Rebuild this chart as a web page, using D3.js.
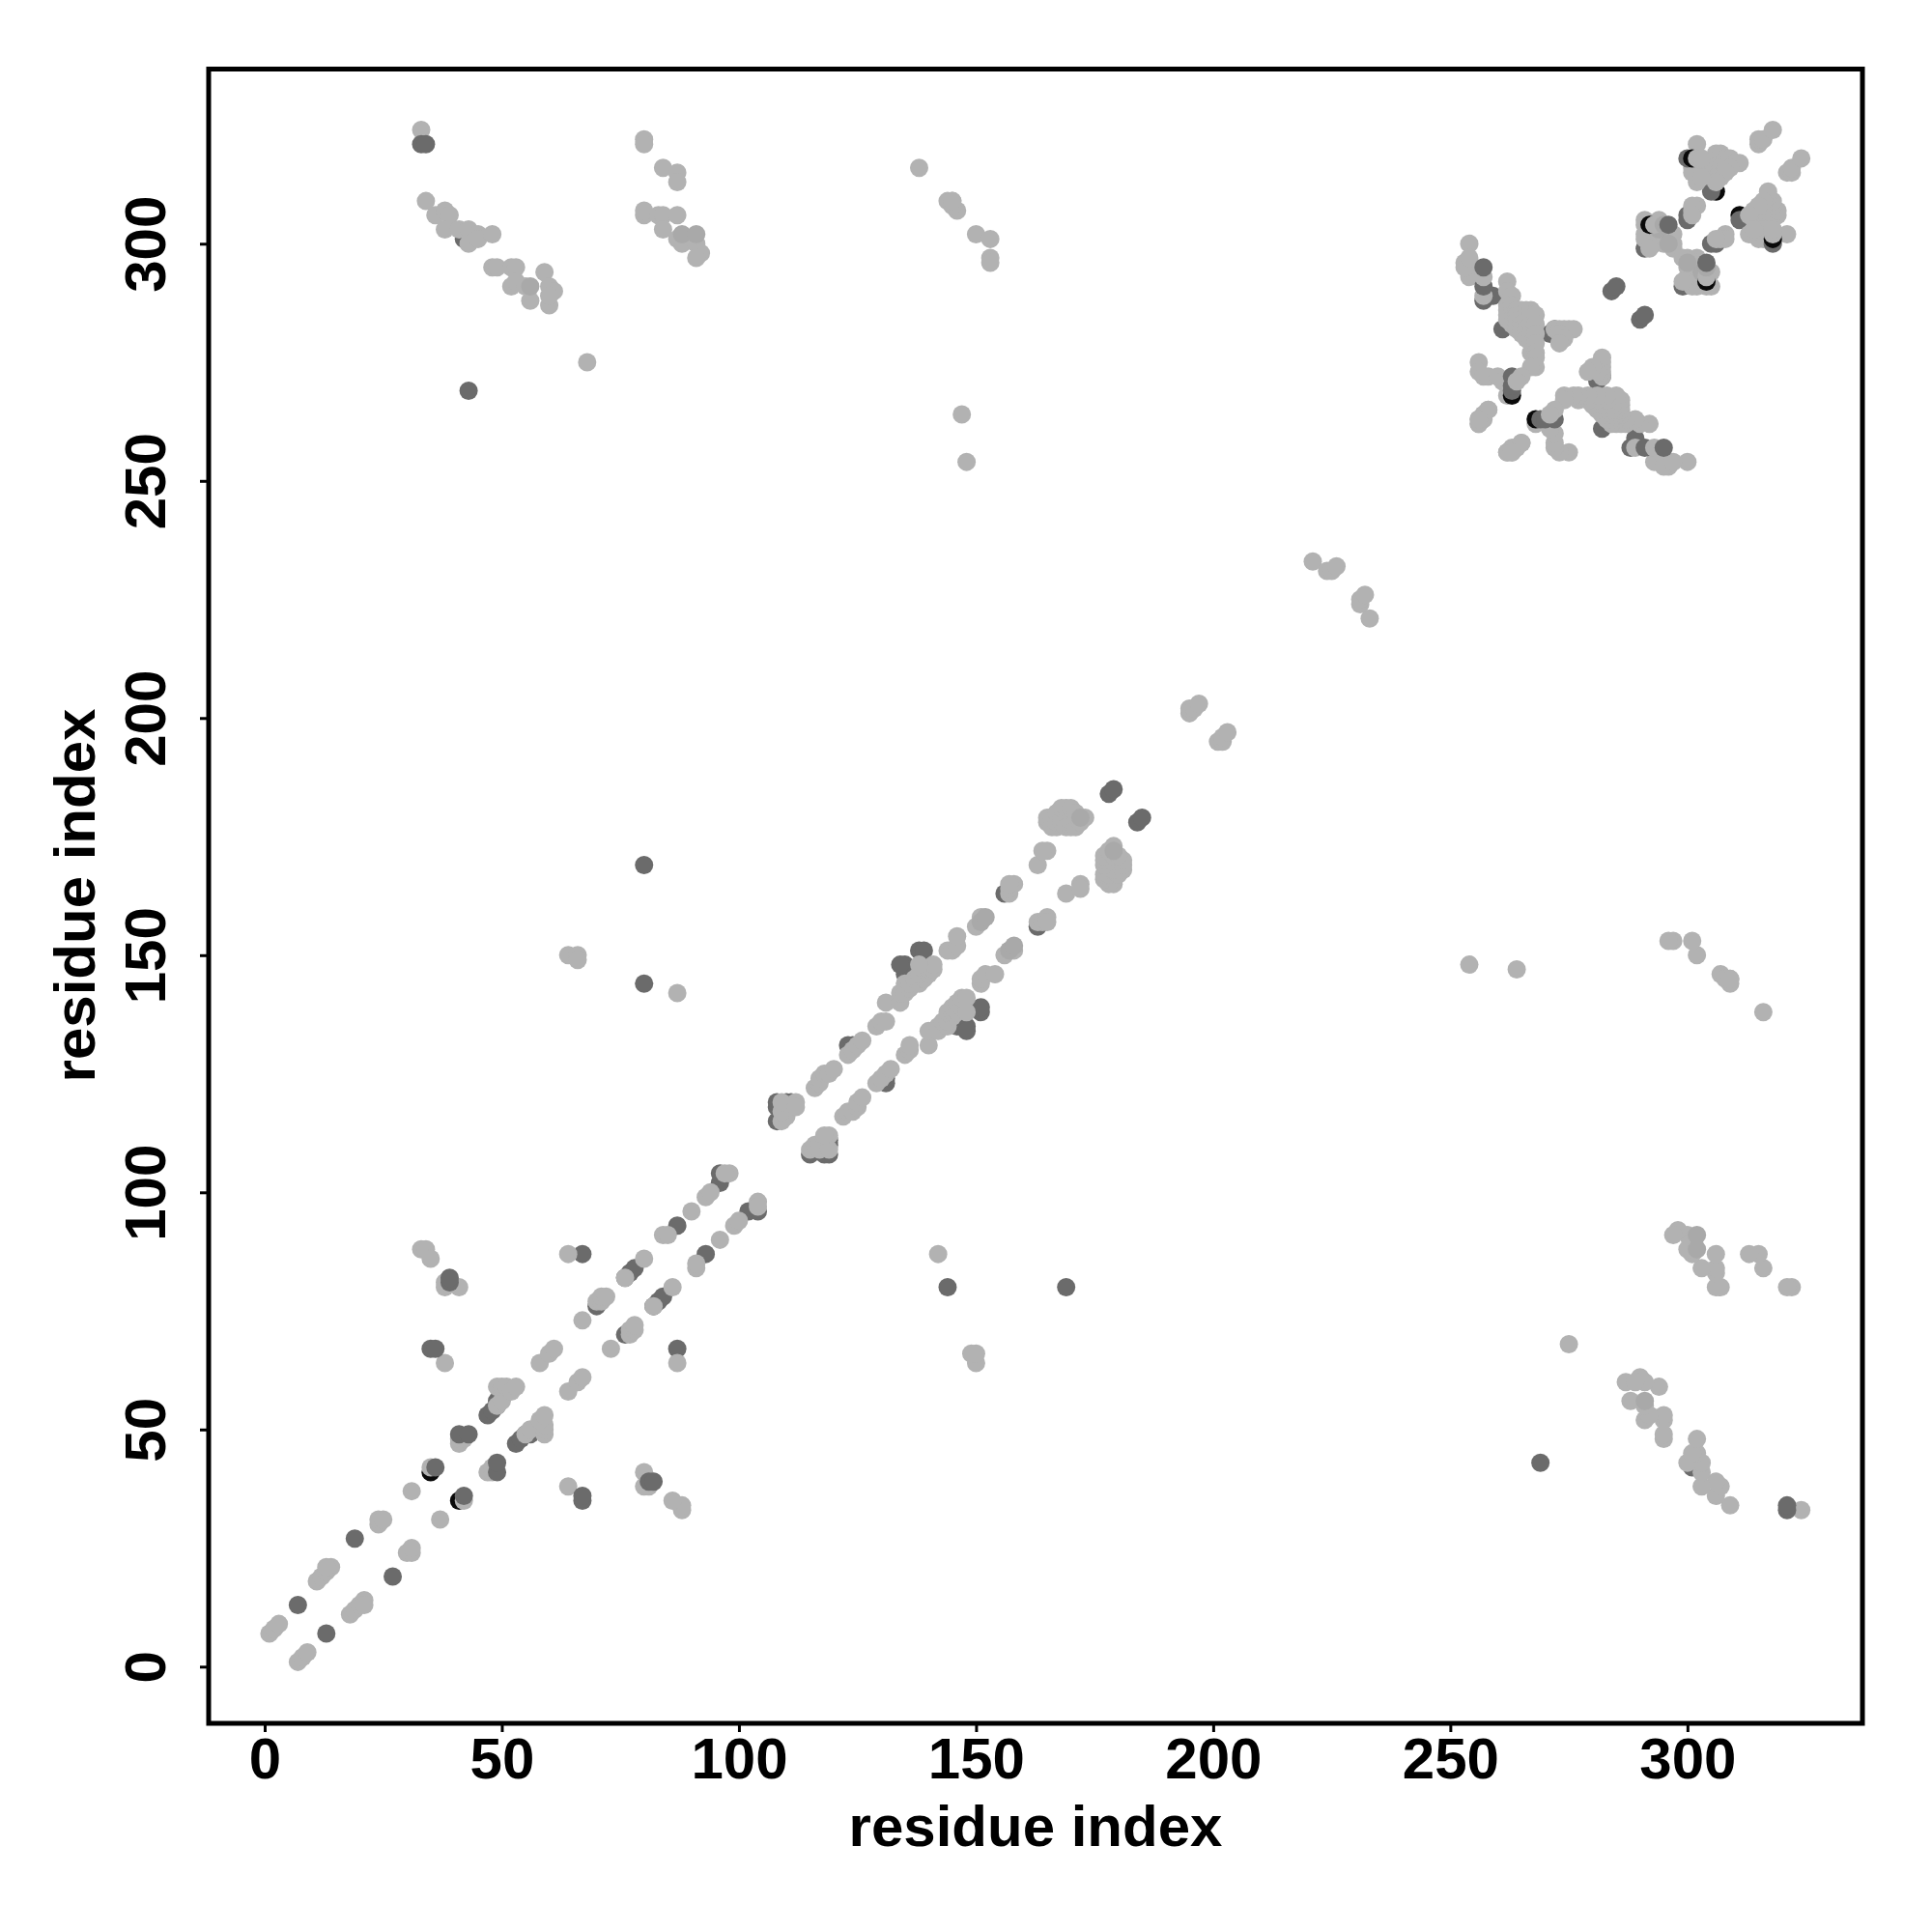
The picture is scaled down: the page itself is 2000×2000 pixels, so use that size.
<!DOCTYPE html>
<html><head><meta charset="utf-8">
<script src="https://cdn.jsdelivr.net/npm/d3@7"></script>
<style>html,body{margin:0;padding:0;background:#fff}svg{display:block}text{font-family:"Liberation Sans",Arial,sans-serif;font-weight:bold;fill:#000}</style>
</head><body><script>
const xTickValues=[0,50,100,150,200,250,300], yTickValues=[0,50,100,150,200,250,300];
const xTitle="residue index", yTitle="residue index";
// contact pairs [i,j], i<j; the map is symmetric. Listed in drawing order per shade.
const blackContacts=[[35,41],[306,311]];
const darkContacts=[[7,13],[19,27],[43,269],[43,301],[42,301],[70,76],[76,82],[77,83],[78,84],[47,53],[48,54],[49,55],[49,56],
[108,118],[108,119],[108,115],[110,119],[111,119],[109,118],[123,131],[124,131],[135,146],[135,147],[135,148],[134,148],[138,151],[139,151],[137,144],[139,146],[156,163],
[96,102],[96,104],[87,93],[80,169],[80,144],[67,87],[178,184],[179,185],
[259,289],[261,282],[281,272],[282,272],[271,281],[272,281],[300,306],[300,305],[284,290],[285,291],
[291,299],[302,315],[305,311]];
const lightContacts=[[1,7],[2,8],[3,9],[11,18],[12,19],[13,20],[14,21],[13,21],[24,30],[24,31],[25,31],[31,37],[35,42],[41,47],[41,48],[42,48],
[49,55],[50,56],[49,59],[50,59],[51,59],[52,58],[53,59],[58,64],[60,66],[61,67],[67,73],[70,77],[71,77],[71,78],[72,78],[76,82],[80,86],[84,91],[85,91],[90,96],[93,99],[94,100],[98,104],[97,104],
[33,88],[34,88],[35,86],[38,64],[64,87],[38,80],[41,80],[38,81],
[109,115],[110,116],[110,117],[111,118],[109,117],[112,119],[109,119],[112,118],[116,122],[117,123],[117,124],[118,125],[119,125],[120,126],[123,129],[124,130],[125,131],[126,132],[129,135],[130,136],[131,136],
[131,140],[134,140],[134,142],[135,142],[135,144],[136,143],[136,144],[137,145],[138,144],[138,145],[139,145],[138,146],[139,147],[140,146],[140,147],[141,147],[141,148],[138,148],
[144,151],[145,151],[146,152],[146,154],[150,156],[151,157],[151,158],[157,163],[157,164],[158,165],[157,165],[163,169],[165,172],[164,172],
[165,178],[165,179],[166,177],[166,179],[167,177],[167,178],[167,180],[168,178],[168,179],[168,181],[169,177],[169,181],[170,177],[170,178],[170,181],[171,177],[171,179],[171,180],[172,178],[172,179],[173,179],
[195,201],[195,202],[196,202],[197,203],[221,233],[224,231],[225,231],[226,232],
[64,150],[66,150],[66,149],[87,142],[147,264],[148,254],[138,316],[144,309],[145,309],[146,307],[150,302],[153,301],[153,297],[153,296],[145,308],[145,309],
[33,324],[34,309],[36,306],[38,307],[39,306],[38,303],[41,303],[43,303],[43,300],[45,302],[45,301],[48,302],[48,295],[49,295],[52,295],[53,295],[52,291],[53,292],[55,291],[56,288],[59,294],[60,291],[61,290],[60,287],[60,289],[68,275],
[80,322],[80,321],[84,316],[87,315],[87,313],[80,306],[80,307],[83,306],[84,306],[87,306],[84,303],[87,301],[88,300],[91,300],[92,298],[91,297],
[254,300],[253,296],[254,296],[254,293],[255,295],[253,295],[262,292],[262,290],[263,289],
[262,287],[262,286],[262,285],[262,284],[263,287],[263,285],[263,284],[263,283],[264,286],[264,285],[264,284],[264,283],[264,282],[265,286],[265,285],[265,284],[265,283],[265,282],[265,281],[266,286],[266,285],[266,284],[266,282],[266,280],[267,286],[267,285],[267,283],[267,281],[267,279],[267,277],[268,285],[268,283],[268,281],[268,279],[268,277],[268,276],[268,274],[267,274],
[272,282],[273,282],[274,282],[275,282],[276,282],[273,281],[274,280],[273,279],[256,275],[256,273],[257,272],[258,272],[260,272],[261,271],[262,268],
[258,265],[257,264],[256,263],[256,262],[256,262],[257,263],[258,265],[256,263],
[254,297],[301,307],[302,308],[301,308],[301,306],[302,321],
[304,316],[305,317],[306,319],[307,319],[308,318],[309,318],[310,317],[311,317],[304,315],[305,315],[306,316],[307,316],[308,316],[309,316],[306,314],[307,314],[308,315],[301,316],[303,316],[302,317],[306,313],[301,315],
[315,321],[315,322],[316,322],[318,324],[302,313],[303,314],
[291,304],[291,302],[291,301],[293,302],[293,300],[294,301],[295,300],[296,301],[297,300],[297,302],[295,303],[296,302],[291,305],[294,305],[295,302],[292,299],[297,299]];
const midContacts=[[56,291],[88,302],[91,302],[151,157],[152,158],[172,179],[294,303],[296,300]];
// last marks on top, interleaved so the crescents of the darker marks stay visible
const frontPairs=[[300,318],[301,318],[302,318],[303,318],[292,304],[293,304],[295,304],[296,304],[257,288],[257,289],[257,291],[257,293],[257,295],[263,268],[263,269],[263,270],[263,272],[265,272],[264,271],[36,42],[41,49],[43,49],[35,67],[36,67],[39,81],[39,82],[33,321],[34,321]];
const frontShades=["d","k","l","l","k","l","m","d","d","l","d","l","d","k","d","d","d","l","l","d","d","d","d","d","d","d","d","d"];
const shadeColor={k:"#0a0a0a",d:"#6b6b6b",l:"#b2b2b2",m:"#a9a9a9"};
const contactLayers=[[blackContacts,"k"],[darkContacts,"d"],[lightContacts,"l"],[midContacts,"m"]];

const svg=d3.select("body").append("svg").attr("width",2000).attr("height",2000);
const x=d3.scaleLinear().domain([-11.71,336.9]).range([216.5,1928]);
const y=d3.scaleLinear().domain([-11.955,336.82]).range([1784,71.5]);
const plot=svg.append("g");
const mirror=(p,s)=>[{i:p[0],j:p[1],s},{i:p[1],j:p[0],s}];
const marks=contactLayers.flatMap(([pairs,s])=>pairs.flatMap(p=>mirror(p,s)))
  .concat(frontPairs.flatMap((p,k)=>mirror(p,frontShades[k])));
plot.selectAll("circle").data(marks).join("circle")
  .attr("cx",d=>x(d.i)).attr("cy",d=>y(d.j)).attr("r",9.5).attr("fill",d=>shadeColor[d.s]);
const gx=svg.append("g").attr("transform","translate(0,1784)")
  .call(d3.axisBottom(x).tickValues(xTickValues).tickSize(9).tickPadding(5));
const gy=svg.append("g").attr("transform","translate(216,0)")
  .call(d3.axisLeft(y).tickValues(yTickValues).tickSize(9));
[gx,gy].forEach(g=>{g.select(".domain").remove();g.selectAll("line").attr("stroke","#000").attr("stroke-width",3);
  g.selectAll("text").attr("font-size",60).style("font-family",'"Liberation Sans",Arial,sans-serif').style("font-weight","bold");});
gy.selectAll(".tick text").attr("x",null).attr("dy",null).attr("text-anchor","middle")
  .attr("transform","translate(-45,0) rotate(-90)");
svg.append("rect").attr("x",216).attr("y",71.5).attr("width",1712).attr("height",1712.5)
  .attr("fill","none").attr("stroke","#000").attr("stroke-width",5);
svg.append("text").attr("x",1072).attr("y",1911).attr("text-anchor","middle").attr("font-size",60).text(xTitle);
svg.append("text").attr("transform","translate(98,927) rotate(-90)").attr("text-anchor","middle").attr("font-size",60).text(yTitle);
</script></body></html>
